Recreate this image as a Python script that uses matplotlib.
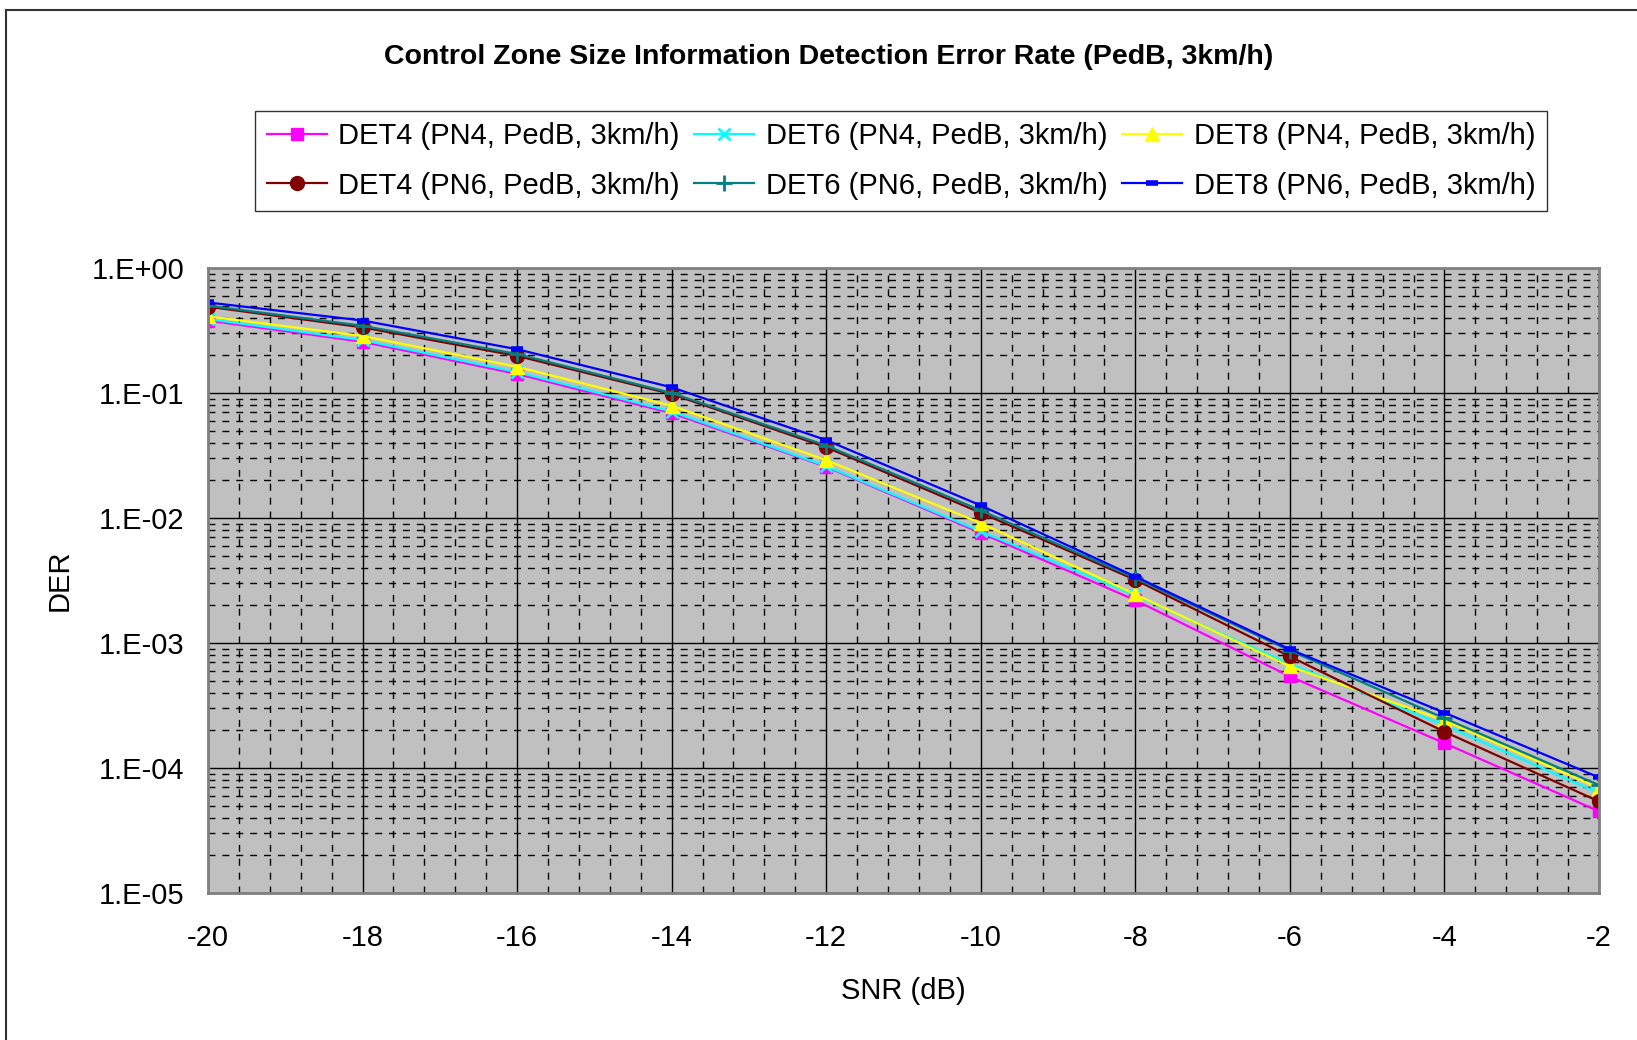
import matplotlib
matplotlib.use("Agg")
import matplotlib.pyplot as plt
from matplotlib.lines import Line2D
from matplotlib.ticker import FuncFormatter, LogLocator, MultipleLocator
import numpy as np

plt.rcParams['font.family'] = ['Liberation Sans', 'DejaVu Sans']

# SNR points (dB)
snr = [-20, -18, -16, -14, -12, -10, -8, -6, -4, -2]

# detection error rate per series
det4_pn4 = [0.38, 0.257, 0.142, 0.069, 0.0257, 0.0076, 0.0022, 0.00054, 0.000158, 4.5e-5]
det6_pn4 = [0.39, 0.265, 0.147, 0.071, 0.026, 0.0078, 0.0024, 0.00068, 0.00022, 6.3e-5]
det8_pn4 = [0.41, 0.286, 0.162, 0.079, 0.029, 0.0091, 0.00245, 0.00065, 0.00024, 6.9e-5]
det4_pn6 = [0.49, 0.335, 0.198, 0.098, 0.0368, 0.011, 0.0032, 0.00078, 0.000195, 5.4e-5]
det6_pn6 = [0.50, 0.345, 0.205, 0.100, 0.038, 0.0115, 0.0033, 0.00087, 0.00025, 7.3e-5]
det8_pn6 = [0.53, 0.38, 0.224, 0.111, 0.042, 0.0126, 0.0034, 0.00089, 0.000277, 8.4e-5]

labels = ["DET4 (PN4, PedB, 3km/h)", "DET6 (PN4, PedB, 3km/h)", "DET8 (PN4, PedB, 3km/h)",
          "DET4 (PN6, PedB, 3km/h)", "DET6 (PN6, PedB, 3km/h)", "DET8 (PN6, PedB, 3km/h)"]

W, H = 1637, 1040
fig = plt.figure(figsize=(W / 100, H / 100), dpi=100)
ax = fig.add_axes([208 / W, 1 - 893 / H, (1599 - 208) / W, (893 - 268) / H])
ax.set_facecolor("#C0C0C0")

# outer chart border (only left/top visible in the crop)
fig.add_artist(Line2D([6 / W, 6 / W], [0, 1 - 10 / H], color="#333333", lw=1.5))
fig.add_artist(Line2D([6 / W, 1], [1 - 10 / H, 1 - 10 / H], color="#333333", lw=1.5))

lw = 1.6
h1, = ax.plot(snr, det4_pn4, color="#FF00FF", lw=lw, marker="s", ms=8.5, label=labels[0])
h2, = ax.plot(snr, det6_pn4, color="#00FFFF", lw=lw, marker="x", ms=9, mew=2, label=labels[1])
h3, = ax.plot(snr, det8_pn4, color="#FFFF00", lw=lw, marker="^", ms=10, label=labels[2])
h4, = ax.plot(snr, det4_pn6, color="#800000", lw=lw, marker="o", ms=10, label=labels[3])
h5, = ax.plot(snr, det6_pn6, color="#008080", lw=lw, marker="+", ms=11, mew=2, label=labels[4])
h6, = ax.plot(snr, det8_pn6, color="#0000FF", lw=lw, marker="_", ms=8, mew=4, label=labels[5])

ax.set_yscale("log")
ax.set_xlim(-20, -2)
ax.set_ylim(1e-5, 1)
ax.xaxis.set_major_locator(MultipleLocator(2))
ax.xaxis.set_minor_locator(MultipleLocator(0.4))
ax.yaxis.set_major_locator(LogLocator(base=10, numticks=10))
ax.yaxis.set_minor_locator(LogLocator(base=10, subs=np.arange(2, 10), numticks=20))
ax.yaxis.set_major_formatter(FuncFormatter(lambda v, p: "1.E%+03d" % int(round(np.log10(v)))))
ax.xaxis.set_major_formatter(FuncFormatter(lambda v, p: "%d" % v))

ax.grid(which="major", color="black", lw=1.0, ls="-")
ax.grid(which="minor", color="black", lw=1.0, ls=(0, (5, 5)))
ax.set_axisbelow(True)

ax.tick_params(which="both", length=0)
ax.tick_params(axis="y", labelsize=21, pad=17)
ax.tick_params(axis="x", labelsize=21, pad=22)
for s in ax.spines.values():
    s.set_color("#808080")
    s.set_linewidth(2)

ax.set_xlabel("SNR (dB)", fontsize=21, labelpad=18)
ax.set_ylabel("DER", fontsize=21, labelpad=13)

fig.text(829 / W, 1 - 57 / H, "Control Zone Size Information Detection Error Rate (PedB, 3km/h)",
         ha="center", va="center", fontsize=20.5, fontweight="bold")

handles = [h1, h4, h2, h5, h3, h6]
leg = fig.legend(handles, [h.get_label() for h in handles], ncol=3,
                 loc="center", bbox_to_anchor=(901 / W, 1 - 161 / H),
                 fontsize=21, frameon=True, fancybox=False, edgecolor="black",
                 handlelength=2.05, handletextpad=0.4, columnspacing=0.5,
                 labelspacing=0.72, borderpad=0.4)
leg.get_frame().set_linewidth(1.0)

fig.savefig("out.png", dpi=100)
